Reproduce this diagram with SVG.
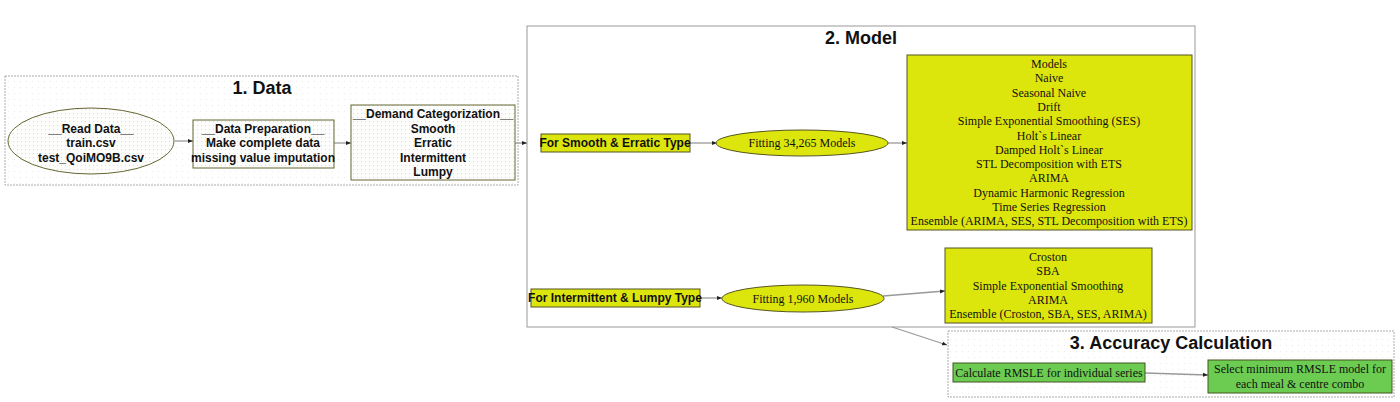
<svg xmlns="http://www.w3.org/2000/svg" width="1400" height="402" viewBox="0 0 1400 402">
<style>
.title{font-family:"Liberation Sans",Arial,sans-serif;font-weight:bold;font-size:18px;fill:#111;text-anchor:middle}
.b{font-family:"Liberation Sans",Arial,sans-serif;font-weight:bold;font-size:12px;fill:#111;text-anchor:middle}
.s{font-family:"Liberation Serif","Times New Roman",serif;font-size:12px;fill:#111;text-anchor:middle}
.cl{fill:url(#dots);stroke:#aaa;stroke-width:1;stroke-dasharray:2 1}
.cl2{fill:#fff;stroke:#999;stroke-width:1}
.wn{fill:url(#dots2);stroke:#666633;stroke-width:1}
.yn{fill:#dde60c;stroke:#555522;stroke-width:1}
.gn{fill:#6ccc52;stroke:#445522;stroke-width:1}
.e{fill:none;stroke:#999;stroke-width:1.3;marker-end:url(#ah)}
</style>
<defs>
<pattern id="dots" width="6" height="6" patternUnits="userSpaceOnUse"><rect width="6" height="6" fill="#fff"/><rect x="2" y="3" width="1" height="1" fill="#ececE6"/></pattern>
<pattern id="dots2" width="4" height="4" patternUnits="userSpaceOnUse"><rect width="4" height="4" fill="#fdfdfb"/><rect x="1" y="1" width="1" height="1" fill="#dcdcd0"/></pattern>
<marker id="ah" viewBox="0 0 10 10" refX="10" refY="5" markerWidth="5" markerHeight="5" orient="auto" markerUnits="userSpaceOnUse"><path d="M0,1 L10,5 L0,9 z" fill="#222"/></marker>
</defs>
<rect width="1400" height="402" fill="#fff"/>

<g id="cluster-data">
<rect class="cl" x="5" y="76" width="513" height="109"/>
<text class="title" x="262" y="94">1. Data</text>
</g>
<g id="cluster-model">
<rect class="cl2" x="527" y="26" width="668" height="301"/>
<text class="title" x="861" y="44">2. Model</text>
</g>
<g id="cluster-accuracy">
<rect class="cl" x="948" y="331" width="446" height="66"/>
<text class="title" x="1171" y="349">3. Accuracy Calculation</text>
</g>

<g id="connectors">
<line class="e" x1="175" y1="141" x2="193" y2="141"/>
<line class="e" x1="334" y1="143" x2="351" y2="143"/>
<line class="e" x1="515" y1="143" x2="527" y2="143"/>
<line class="e" x1="690" y1="143" x2="717" y2="143"/>
<line class="e" x1="888" y1="143" x2="907" y2="143"/>
<line class="e" x1="700" y1="298" x2="722" y2="298"/>
<line class="e" x1="883" y1="296" x2="945" y2="291"/>
<line class="e" x1="892" y1="327" x2="947" y2="345"/>
<line class="e" x1="1145" y1="373" x2="1208" y2="375"/>
</g>

<g id="read-data">
<ellipse class="wn" cx="91" cy="141" rx="83" ry="33"/>
<text class="b" x="91" y="133">__Read Data__</text>
<text class="b" x="91" y="147">train.csv</text>
<text class="b" x="91" y="162">test_QoiMO9B.csv</text>
</g>
<g id="data-preparation">
<rect class="wn" x="193" y="120" width="141" height="48"/>
<text class="b" x="263" y="133">__Data Preparation__</text>
<text class="b" x="263" y="147">Make complete data</text>
<text class="b" x="263" y="162">missing value imputation</text>
</g>
<g id="demand-categorization">
<rect class="wn" x="351" y="105" width="164" height="75"/>
<text class="b" x="433" y="118">__Demand Categorization__</text>
<text class="b" x="433" y="133">Smooth</text>
<text class="b" x="433" y="147">Erratic</text>
<text class="b" x="433" y="162">Intermittent</text>
<text class="b" x="433" y="176">Lumpy</text>
</g>

<g id="smooth-erratic">
<rect class="yn" x="541" y="134" width="149" height="18"/>
<text class="b" x="615" y="147">For Smooth &amp; Erratic Type</text>
</g>
<g id="fitting-34265">
<ellipse class="yn" cx="802" cy="143" rx="86" ry="13"/>
<text class="s" x="802" y="147">Fitting 34,265 Models</text>
</g>
<g id="models-list">
<rect class="yn" x="907" y="55" width="285" height="175"/>
<text class="s" x="1049" y="68">Models</text>
<text class="s" x="1049" y="82.3">Naive</text>
<text class="s" x="1049" y="96.6">Seasonal Naive</text>
<text class="s" x="1049" y="110.9">Drift</text>
<text class="s" x="1049" y="125.2">Simple Exponential Smoothing (SES)</text>
<text class="s" x="1049" y="139.5">Holt`s Linear</text>
<text class="s" x="1049" y="153.8">Damped Holt`s Linear</text>
<text class="s" x="1049" y="168.1">STL Decomposition with ETS</text>
<text class="s" x="1049" y="182.4">ARIMA</text>
<text class="s" x="1049" y="196.7">Dynamic Harmonic Regression</text>
<text class="s" x="1049" y="211">Time Series Regression</text>
<text class="s" x="1049" y="225.3">Ensemble (ARIMA, SES, STL Decomposition with ETS)</text>
</g>

<g id="intermittent-lumpy">
<rect class="yn" x="531" y="289" width="169" height="18"/>
<text class="b" x="615" y="302">For Intermittent &amp; Lumpy Type</text>
</g>
<g id="fitting-1960">
<ellipse class="yn" cx="803" cy="298.5" rx="81" ry="13.5"/>
<text class="s" x="803" y="302.5">Fitting 1,960 Models</text>
</g>
<g id="intermittent-models">
<rect class="yn" x="945" y="248" width="207" height="75"/>
<text class="s" x="1048" y="261">Croston</text>
<text class="s" x="1048" y="275">SBA</text>
<text class="s" x="1048" y="290">Simple Exponential Smoothing</text>
<text class="s" x="1048" y="304">ARIMA</text>
<text class="s" x="1048" y="318">Ensemble (Croston, SBA, SES, ARIMA)</text>
</g>

<g id="calculate-rmsle">
<rect class="gn" x="953" y="363" width="192" height="19"/>
<text class="s" x="1049" y="377">Calculate RMSLE for individual series</text>
</g>
<g id="select-minimum">
<rect class="gn" x="1208" y="360" width="184" height="33"/>
<text class="s" x="1300" y="373">Select minimum RMSLE model for</text>
<text class="s" x="1300" y="388">each meal &amp; centre combo</text>
</g>
</svg>
